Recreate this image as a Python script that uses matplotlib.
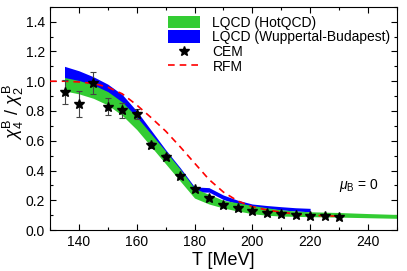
import numpy as np
import matplotlib.pyplot as plt
from matplotlib.patches import Patch
from matplotlib.lines import Line2D

plt.rcParams['font.family'] = ['Liberation Sans', 'DejaVu Sans']
plt.rcParams['mathtext.fontset'] = 'custom'
plt.rcParams['mathtext.rm'] = 'Liberation Sans'
plt.rcParams['mathtext.it'] = 'Liberation Sans:italic'

# HotQCD band
T_hot = [135, 140, 145, 150, 155, 160, 165, 170, 175, 180, 185, 190, 195,
         200, 205, 210, 215, 220, 230, 240, 250]
hot_lo = [0.935, 0.915, 0.885, 0.84, 0.77, 0.675, 0.56, 0.445, 0.33, 0.215,
          0.175, 0.148, 0.128, 0.11, 0.10, 0.094, 0.092, 0.09, 0.087, 0.083, 0.079]
hot_hi = [1.025, 1.005, 0.975, 0.93, 0.86, 0.76, 0.645, 0.53, 0.41, 0.28,
          0.24, 0.20, 0.183, 0.165, 0.15, 0.136, 0.128, 0.123, 0.118, 0.111, 0.105]

# Wuppertal-Budapest band
T_wb = [135, 140, 145, 150, 155, 160, 165, 170, 175, 180, 185, 190, 195,
        200, 205, 210, 215, 220]
wb_lo = [0.96, 0.95, 0.92, 0.88, 0.81, 0.72, 0.60, 0.48, 0.37, 0.255,
         0.255, 0.205, 0.175, 0.155, 0.145, 0.135, 0.128, 0.123]
wb_hi = [1.10, 1.07, 1.03, 0.98, 0.91, 0.80, 0.67, 0.54, 0.42, 0.29,
         0.285, 0.235, 0.20, 0.175, 0.165, 0.157, 0.15, 0.146]

# CEM points
T_cem = [135, 140, 145, 150, 155, 160, 165, 170, 175, 180, 185, 190, 195,
         200, 205, 210, 215, 220, 225, 230]
cem = [0.925, 0.845, 0.99, 0.83, 0.805, 0.78, 0.57, 0.49, 0.36, 0.275, 0.213,
       0.168, 0.146, 0.128, 0.117, 0.108, 0.10, 0.094, 0.094, 0.09]
cem_err = [0.08, 0.087, 0.075, 0.06, 0.05, 0.035, 0.02, 0.02, 0.012, 0.01, 0.008,
           0.006, 0.005, 0.005, 0.004, 0.004, 0.003, 0.003, 0.003, 0.003]

# RFM curve
T_rfm = [130, 135, 140, 145, 150, 155, 160, 165, 170, 175, 180, 185, 190, 195,
         200, 205, 210, 215, 220, 225, 230]
rfm = [1.0, 1.0, 0.995, 0.985, 0.96, 0.915, 0.84, 0.755, 0.665, 0.56, 0.45,
       0.34, 0.255, 0.195, 0.157, 0.135, 0.12, 0.108, 0.10, 0.096, 0.093]

fig = plt.figure(figsize=(4.07, 2.71), dpi=100)
ax = fig.add_axes([0.123, 0.151, 0.852, 0.824])

green = '#33cc33'
blue = '#0000ff'

ax.fill_between(T_wb, wb_lo, wb_hi, color=blue, lw=0, zorder=1)
ax.fill_between(T_hot, hot_lo, hot_hi, color=green, lw=0, zorder=2)
ax.plot(T_rfm, rfm, '--', color='red', lw=1.2, dashes=(4, 3), zorder=3)
ax.errorbar(T_cem, cem, yerr=cem_err, fmt='none', ecolor='#444444',
            elinewidth=0.8, capsize=2, capthick=0.8, zorder=4)
ax.plot(T_cem, cem, '*', color='black', ms=7, zorder=5)

ax.set_xlim(130, 250)
ax.set_ylim(0, 1.5)
ax.set_xticks([140, 160, 180, 200, 220, 240])
ax.set_xticks(np.arange(130, 251, 10), minor=True)
ax.set_yticks([0.0, 0.2, 0.4, 0.6, 0.8, 1.0, 1.2, 1.4])
ax.set_yticks(np.arange(0, 1.51, 0.1), minor=True)
ax.yaxis.set_major_formatter(plt.FormatStrFormatter('%.1f'))
ax.tick_params(which='both', direction='in', top=True, right=True, labelsize=10)
ax.tick_params(which='major', length=4, width=0.8)
ax.tick_params(which='minor', length=2, width=0.8)

ax.set_xlabel('T [MeV]', fontsize=13, labelpad=2)
ax.set_ylabel(r'$\chi_4^{\rm B}\ /\ \chi_2^{\rm B}$', fontsize=13)
ax.yaxis.set_label_coords(-0.07, 0.53)

ax.text(237, 0.3, r'$\mu_{\rm B}$ = 0', fontsize=10, ha='center', va='center')

handles = [Patch(facecolor=green, edgecolor='none'),
           Patch(facecolor=blue, edgecolor='none'),
           Line2D([], [], ls='none', marker='*', color='black', ms=7),
           Line2D([], [], ls='--', color='red', lw=1.2, dashes=(4, 3))]
labels = ['LQCD (HotQCD)', 'LQCD (Wuppertal-Budapest)', 'CEM', 'RFM']
ax.legend(handles, labels, loc='upper left', bbox_to_anchor=(0.34, 0.96),
          frameon=False, fontsize=10, handlelength=2.3, handleheight=1.0,
          handletextpad=0.9, labelspacing=0.05, borderpad=0, borderaxespad=0)

fig.savefig('out.png', dpi=100)
